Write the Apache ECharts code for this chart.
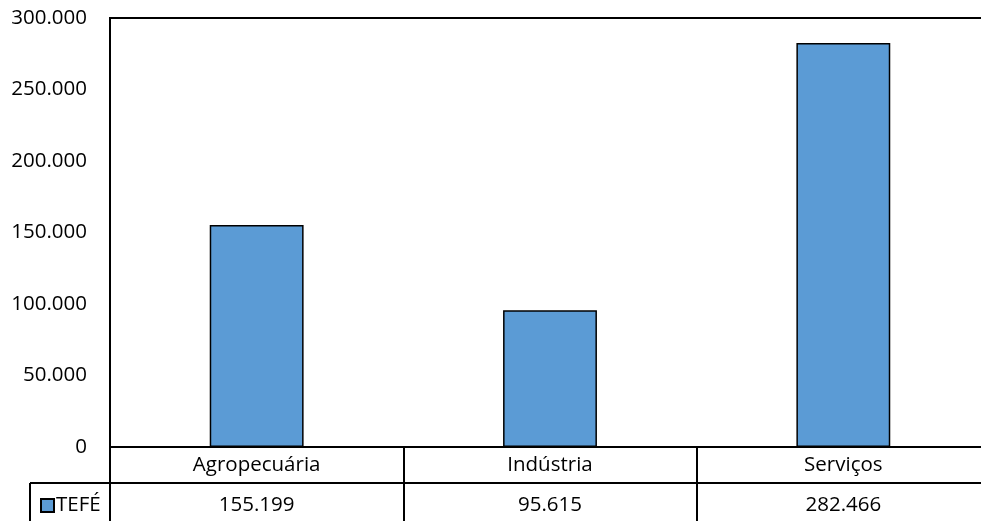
<!DOCTYPE html>
<html><head><meta charset="utf-8">
<script src="https://cdn.jsdelivr.net/npm/echarts@6/dist/echarts.min.js"></script>
<style>html,body{margin:0;padding:0;background:#fff;}#c{width:981px;height:521px;}</style>
</head><body><div id="c"></div>
<script>
const categories = ['Agropecuária', 'Indústria', 'Serviços'];
const seriesName = 'TEFÉ';
const tefeValues = [155199, 95615, 282466];
const yTicks = [0, 50000, 100000, 150000, 200000, 250000, 300000];

function fmt(v){ return String(v).replace(/\B(?=(\d{3})+(?!\d))/g, '.'); }

const FONT = 'Open Sans';
const FS = 20.5;
const GL = 110, GT = 18, GW = 880, GH = 429, ROW = 36;
const chart = echarts.init(document.getElementById('c'), null, {renderer:'canvas'});
chart.setOption({
  animation:false,
  backgroundColor:'#fff',
  textStyle:{fontFamily:FONT},
  grid:[
    {left:GL, top:GT, width:GW, height:GH, show:true, borderColor:'#000', borderWidth:2, backgroundColor:'transparent', outerBoundsMode:'none', containLabel:false},
    {left:GL, top:GT+GH, width:GW, height:120, show:true, borderColor:'#000', borderWidth:2, backgroundColor:'transparent', outerBoundsMode:'none', containLabel:false}
  ],
  legend:{
    data:[seriesName], left:35, top:GT+GH+ROW+7, itemWidth:13, itemHeight:13, itemGap:4,
    textStyle:{fontFamily:FONT, fontSize:FS, color:'#000', padding:[0,0,0,-3]}, icon:'rect'
  },
  xAxis:[
    {type:'category', gridIndex:0, data:categories, axisLine:{show:false}, axisTick:{show:false},
     axisLabel:{fontFamily:FONT, fontSize:FS, color:'#000', margin:8}},
    {type:'category', gridIndex:1, position:'top', data:tefeValues.map(fmt), axisLine:{show:false}, axisTick:{show:false},
     splitLine:{show:true, lineStyle:{color:'#000', width:2}},
     axisLabel:{inside:true, fontFamily:FONT, fontSize:FS, color:'#000', margin:ROW+12}}
  ],
  yAxis:[
    {type:'value', gridIndex:0, min:yTicks[0], max:yTicks[yTicks.length-1], interval:yTicks[1]-yTicks[0],
     axisLine:{show:false}, axisTick:{show:false}, splitLine:{show:false},
     axisLabel:{fontFamily:FONT, fontSize:FS, color:'#000', margin:23, formatter:fmt}},
    {type:'value', gridIndex:1, show:false}
  ],
  series:[{
    name:seriesName, type:'bar', xAxisIndex:0, yAxisIndex:0, data:tefeValues, barWidth:'32%',
    itemStyle:{color:'#5B9BD5', borderColor:'#000', borderWidth:1.5}
  }],
  graphic:[
    {type:'line', shape:{x1:30, y1:GT+GH+ROW, x2:GL+GW, y2:GT+GH+ROW}, style:{stroke:'#000', lineWidth:2}},
    {type:'line', shape:{x1:30, y1:GT+GH+ROW, x2:30, y2:560}, style:{stroke:'#000', lineWidth:2}}
  ]
});
</script></body></html>
